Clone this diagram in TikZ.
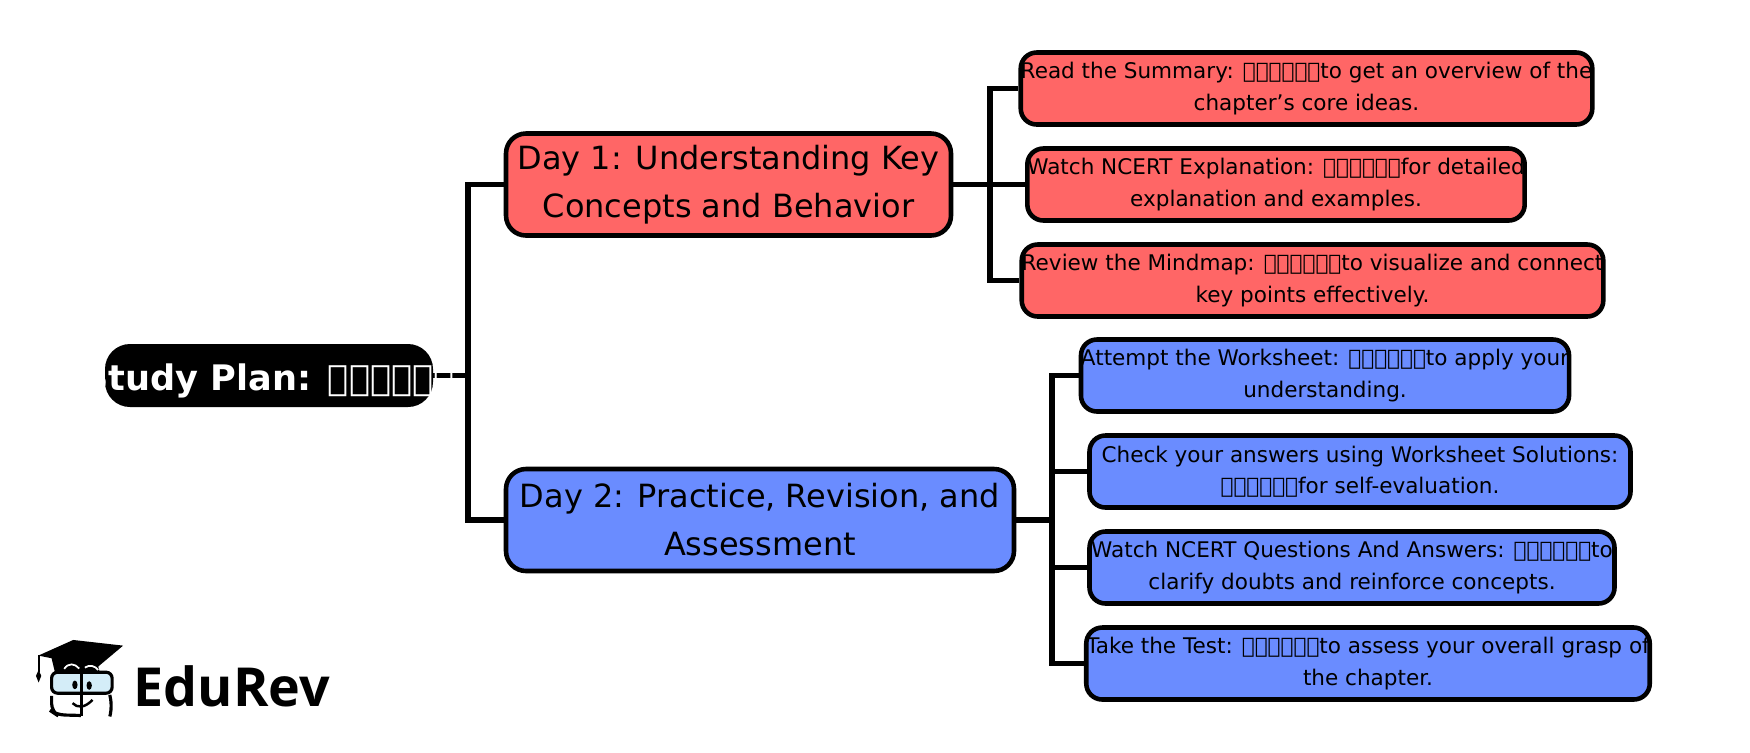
\documentclass[tikz,border=0pt]{standalone}
\usepackage{fontspec}
\setmainfont{DejaVu Sans}
\newfontfamily\logofont{Open Sans}
\definecolor{redfill}{HTML}{FF6666}
\definecolor{bluefill}{HTML}{6A8CFF}
\definecolor{lensblue}{HTML}{D4EDF8}
\newcommand{\nofont}{\XeTeXglyph0 \XeTeXglyph0 \XeTeXglyph0 \XeTeXglyph0 \XeTeXglyph0 \XeTeXglyph0 }
\tikzset{
  rootbox/.style={fill=black,rounded corners=0.25cm,minimum width=3.28cm,minimum height=0.63cm,inner sep=0pt,text=white,font=\fontsize{10pt}{12pt}\selectfont\bfseries,execute at begin node=\rule{0pt}{1.05em}},
  daybox/.style={draw=black,line width=1.3pt,rounded corners=0.2cm,minimum height=1.02cm,inner sep=0pt,align=center,font=\fontsize{9.1pt}{13.65pt}\selectfont,execute at begin node=\rule{0pt}{1.05em}},
  leafbox/.style={draw=black,line width=1.3pt,rounded corners=0.16cm,minimum height=0.72cm,inner sep=0pt,align=center,font=\fontsize{6.13pt}{8.95pt}\selectfont,execute at begin node=\rule{0pt}{1.07em}},
  link/.style={line width=1.6pt}
}
\begin{document}
\begin{tikzpicture}
\useasboundingbox (0,0) rectangle (17.5,7.52);
% joints of the tree
\coordinate (rootjoin) at (4.68,3.765);
\coordinate (redjoin) at (9.90,5.675);
\coordinate (bluejoin) at (10.52,2.32);
% main nodes
\node [daybox,fill=redfill,minimum width=4.45cm] (dayone) at (7.285,5.675) {Day 1: Understanding Key\\Concepts and Behavior};
\node [daybox,fill=bluefill,minimum width=5.08cm] (daytwo) at (7.60,2.32) {Day 2: Practice, Revision, and\\Assessment};
\node [leafbox,fill=redfill,minimum width=5.58cm] (readsum) at (13.065,6.635) {Read the Summary: \nofont to get an overview of the\\chapter’s core ideas.};
\node [leafbox,fill=redfill,minimum width=4.97cm] (watchexp) at (12.76,5.675) {Watch NCERT Explanation: \nofont for detailed\\explanation and examples.};
\node [leafbox,fill=redfill,minimum width=5.70cm] (mindmap) at (13.125,4.715) {Review the Mindmap: \nofont to visualize and connect\\key points effectively.};
\node [leafbox,fill=bluefill,minimum width=4.71cm] (worksheet) at (13.25,3.765) {Attempt the Worksheet: \nofont to apply your\\understanding.};
\node [leafbox,fill=bluefill,minimum width=5.41cm] (solutions) at (13.60,2.805) {Check your answers using Worksheet Solutions:\\\nofont for self-evaluation.};
\node [leafbox,fill=bluefill,minimum width=5.25cm] (answers) at (13.52,1.845) {Watch NCERT Questions And Answers: \nofont to\\clarify doubts and reinforce concepts.};
\node [leafbox,fill=bluefill,minimum width=5.57cm] (taketest) at (13.68,0.885) {Take the Test: \nofont to assess your overall grasp of\\the chapter.};
% connectors
\draw [link] (4.33,3.765) -- (rootjoin);
\draw [link] (rootjoin) |- (dayone.west);
\draw [link] (rootjoin) |- (daytwo.west);
\draw [link] (dayone.east) -- (redjoin);
\draw [link] (redjoin) |- (readsum.west);
\draw [link] (redjoin) -- (watchexp.west);
\draw [link] (redjoin) |- (mindmap.west);
\draw [link] (daytwo.east) -- (bluejoin);
\draw [link] (bluejoin) |- (worksheet.west);
\draw [link] (bluejoin) |- (solutions.west);
\draw [link] (bluejoin) |- (answers.west);
\draw [link] (bluejoin) |- (taketest.west);
\node [rootbox] (studyplan) at (2.69,3.765) {\makebox[0pt][c]{Study Plan: \nofont}};
% logo
\node [anchor=base west,inner sep=0pt,font=\logofont\bfseries\fontsize{15.3pt}{16pt}\selectfont] (edurev) at (1.33,0.46) {EduRev};
\begin{scope}[shift={(0.2,1.32)},x=0.003333cm,y=-0.003333cm]
\fill (55,107) -- (160,60) -- (310,77) -- (235,140) -- (240,157) -- (105,157) -- (95,115) -- cycle;
\draw [line width=0.5pt] (56,105) -- (56,155);
\fill (56,150) -- (64,168) -- (56,188) -- (48,168) -- cycle;
\draw [line width=0.9pt,fill=lensblue,rounded corners=0.06cm] (95,157) rectangle (277,220);
\draw [line width=0.9pt,rounded corners=0.08cm] (95,228) -- (95,275) -- (110,285) -- (183,287);
\draw [line width=0.9pt,rounded corners=0.08cm] (270,225) -- (277,260) -- (270,290);
\draw [line width=0.9pt] (185,150) -- (185,290);
\fill (165,195) ellipse (8 and 13);
\fill (208,197) ellipse (8 and 13);
\draw [line width=0.7pt] (158,250) .. controls (172,265) and (195,265) .. (218,240);
\draw [white,line width=0.5pt] (133,147) .. controls (145,128) and (165,130) .. (178,146);
\draw [white,line width=0.5pt] (195,143) .. controls (210,133) and (225,138) .. (235,150);
\end{scope}
\end{tikzpicture}
\end{document}
